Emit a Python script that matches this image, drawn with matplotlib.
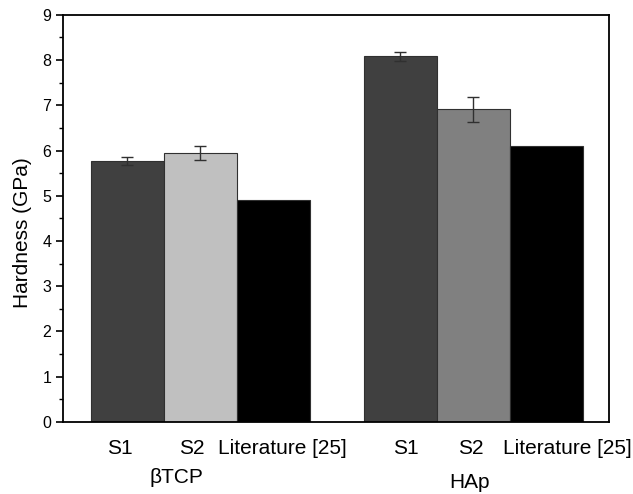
import matplotlib.pyplot as plt
import numpy as np
from matplotlib.ticker import MultipleLocator

plt.rcParams['font.family'] = ['Liberation Sans', 'DejaVu Sans']

# datos
grupos = ['βTCP', 'HAp']
muestras = ['S1', 'S2', 'Literature [25]']
tcp_vals = [5.77, 5.95, 4.90]
tcp_err = [0.09, 0.16, 0.0]
hap_vals = [8.08, 6.91, 6.10]
hap_err = [0.10, 0.27, 0.0]
tcp_colores = ['#404040', '#c0c0c0', '#000000']
hap_colores = ['#404040', '#808080', '#000000']

fig, ax = plt.subplots(figsize=(6.33, 4.94), dpi=100)
fig.subplots_adjust(left=0.1, right=0.962, top=0.97, bottom=0.146)

x1 = np.arange(1, 4)
x2 = x1 + 3.74
for xs, vals, errs, cols in [(x1, tcp_vals, tcp_err, tcp_colores), (x2, hap_vals, hap_err, hap_colores)]:
    ax.bar(xs, vals, width=1.0, color=cols, edgecolor='#303030', linewidth=0.8)
    for x, v, e in zip(xs, vals, errs):
        if e > 0:
            ax.errorbar(x, v, yerr=e, fmt='none', ecolor='#303030', elinewidth=1.0, capsize=4, capthick=1.0)

ax.set_xlim(0.123, 7.6)
ax.set_ylim(0, 9)
ax.yaxis.set_major_locator(MultipleLocator(1))
ax.yaxis.set_minor_locator(MultipleLocator(0.5))
ax.tick_params(axis='y', which='major', direction='out', length=5, width=1.2, labelsize=11.5)
ax.tick_params(axis='y', which='minor', direction='out', length=3, width=1.0)

# las etiquetas del original no estan centradas exactamente en las barras
desp1 = np.array([-0.10, -0.11, 0.12])
desp2 = np.array([0.08, -0.03, 0.29])
ax.set_xticks(np.concatenate([x1 + desp1, x2 + desp2]))
ax.set_xticklabels(muestras * 2, fontsize=15)
ax.tick_params(axis='x', length=0, pad=12)
for s in ax.spines.values():
    s.set_linewidth(1.3)
ax.set_ylabel('Hardness (GPa)', fontsize=15, labelpad=8)
ax.yaxis.set_label_coords(-0.058, 0.466)

ax.text(x1[1] - 0.33, -1.22, grupos[0], ha='center', va='center', fontsize=15, clip_on=False)
ax.text(x2[1] - 0.05, -1.35, grupos[1], ha='center', va='center', fontsize=15, clip_on=False)

plt.savefig('out.png')
